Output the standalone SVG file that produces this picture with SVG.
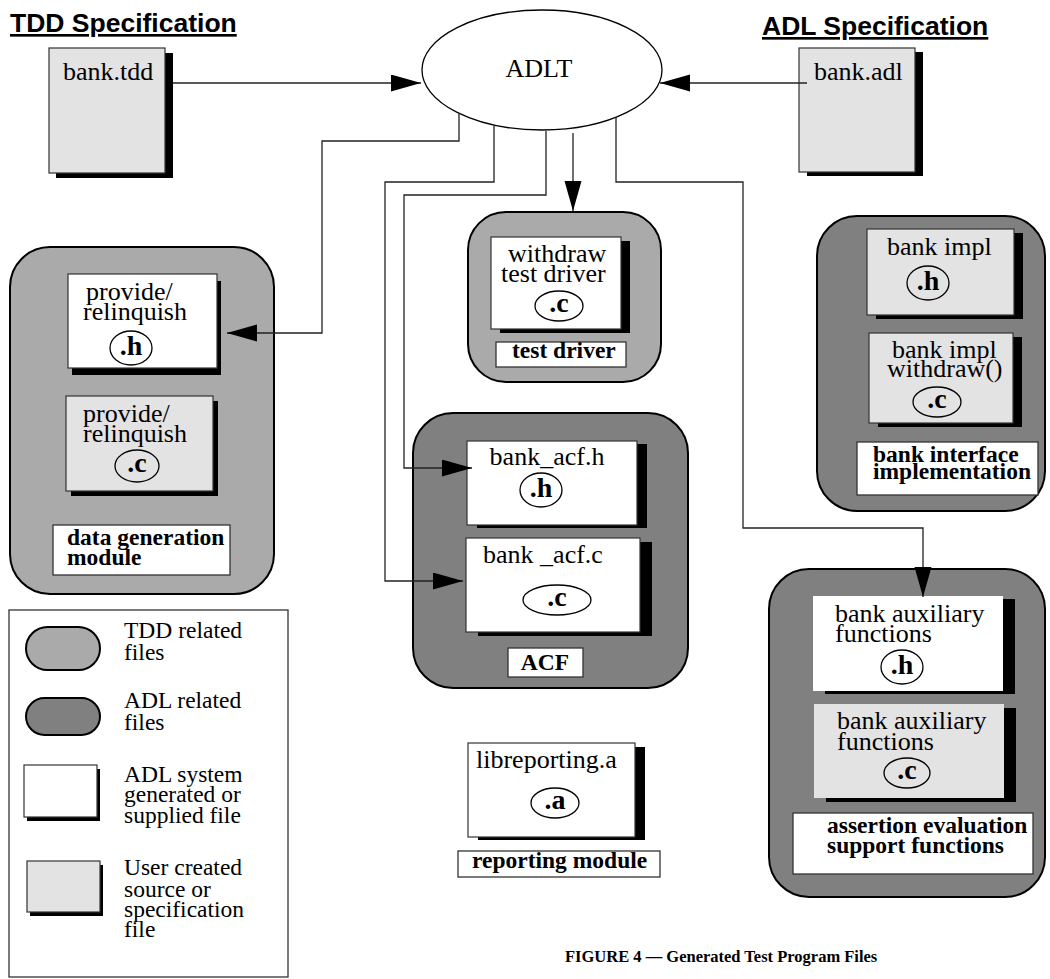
<svg xmlns="http://www.w3.org/2000/svg" width="1050" height="979" viewBox="0 0 1050 979">
<style>
.ttl{font-family:"Liberation Sans",Arial,sans-serif;font-weight:bold;font-size:26.5px;text-decoration:underline;fill:#000}
.ft{font-family:"Liberation Serif","Times New Roman",serif;font-size:26px;fill:#000}
.lg{font-family:"Liberation Serif","Times New Roman",serif;font-size:23.5px;fill:#000}
.lb{font-family:"Liberation Serif","Times New Roman",serif;font-size:23.5px;font-weight:bold;fill:#000}
.bd{font-family:"Liberation Serif","Times New Roman",serif;font-size:28px;font-weight:bold;fill:#000;text-anchor:middle}
.cap{font-family:"Liberation Serif","Times New Roman",serif;font-size:16.5px;font-weight:bold;fill:#000}
.modL{fill:#aaaaaa;stroke:#000;stroke-width:2}
.modD{fill:#808080;stroke:#000;stroke-width:2}
.wf{fill:#fff;stroke:#333;stroke-width:1.2}
.gf{fill:#e3e3e3;stroke:#333;stroke-width:1.2}
.sh{fill:#000}
.badge{fill:none;stroke:#000;stroke-width:1.3}
.lab{fill:#fff;stroke:#333;stroke-width:1.3}
.con{fill:none;stroke:#222;stroke-width:1.3}
</style>
<defs>
<marker id="ah" markerUnits="userSpaceOnUse" markerWidth="30" markerHeight="18" refX="30" refY="8.5" orient="auto">
<path d="M0,0 L30,8.5 L0,17 z" fill="#000"/>
</marker>
</defs>

<text class="ttl" x="10" y="32">TDD Specification</text>
<text class="ttl" x="762" y="35">ADL Specification</text>

<g id="bank-tdd">
<rect class="sh" x="56" y="53" width="117" height="125"/>
<rect class="gf" x="49" y="48" width="116" height="125"/>
<text class="ft" x="63" y="80">bank.tdd</text>
</g>

<g id="bank-adl">
<rect class="sh" x="807" y="52" width="116" height="124"/>
<rect class="gf" x="799" y="48" width="116" height="124"/>
<text class="ft" x="814" y="80">bank.adl</text>
</g>

<g id="adlt">
<ellipse cx="542" cy="70" rx="120" ry="60" fill="#fff" stroke="#000" stroke-width="1.3"/>
<text class="ft" x="539" y="77" text-anchor="middle" font-size="24">ADLT</text>
</g>

<g id="data-generation-module">
<rect class="modL" x="10" y="247" width="264" height="347" rx="40"/>
<rect class="sh" x="72" y="281" width="149" height="94"/>
<rect class="wf" x="68" y="274" width="149" height="94"/>
<text class="ft"><tspan x="86" y="300">provide/</tspan><tspan x="83" y="320">relinquish</tspan></text>
<ellipse class="badge" cx="131" cy="348" rx="21" ry="17"/>
<text class="bd" x="131" y="355">.h</text>
<rect class="sh" x="71" y="401" width="147" height="95"/>
<rect class="gf" x="66" y="396" width="147" height="95"/>
<text class="ft"><tspan x="83" y="422">provide/</tspan><tspan x="83" y="442">relinquish</tspan></text>
<ellipse class="badge" cx="137" cy="466" rx="22" ry="16"/>
<text class="bd" x="137" y="472">.c</text>
<rect class="lab" x="53" y="525" width="177" height="50"/>
<text class="lb"><tspan x="67" y="545">data generation</tspan><tspan x="67" y="565">module</tspan></text>
</g>

<g id="test-driver-module">
<rect class="modL" x="468" y="212" width="193" height="170" rx="38"/>
<rect class="sh" x="500" y="241" width="130" height="92"/>
<rect class="wf" x="491" y="237" width="130" height="92"/>
<text class="ft"><tspan x="508" y="262">withdraw</tspan><tspan x="501" y="282">test driver</tspan></text>
<ellipse class="badge" cx="559" cy="306" rx="24" ry="15"/>
<text class="bd" x="559" y="312">.c</text>
<rect class="lab" x="496" y="342" width="130" height="25"/>
<text class="lb" x="512" y="358">test driver</text>
</g>

<g id="bank-interface-module">
<rect class="modD" x="817" y="216" width="228" height="295" rx="40"/>
<rect class="sh" x="876" y="233" width="147" height="86"/>
<rect class="gf" x="867" y="229" width="147" height="86"/>
<text class="ft" x="887" y="255">bank impl</text>
<ellipse class="badge" cx="928" cy="283" rx="21" ry="17"/>
<text class="bd" x="928" y="290">.h</text>
<rect class="sh" x="878" y="337" width="144" height="90"/>
<rect class="gf" x="869" y="333" width="144" height="90"/>
<text class="ft"><tspan x="892" y="358">bank impl</tspan><tspan x="887" y="377">withdraw()</tspan></text>
<ellipse class="badge" cx="937" cy="402" rx="24" ry="15"/>
<text class="bd" x="937" y="408">.c</text>
<rect class="lab" x="857" y="442" width="181" height="53"/>
<text class="lb"><tspan x="873" y="462">bank interface</tspan><tspan x="873" y="479">implementation</tspan></text>
</g>

<g id="acf-module">
<rect class="modD" x="413" y="413" width="275" height="275" rx="40"/>
<rect class="sh" x="477" y="444" width="170" height="84"/>
<rect class="wf" x="467" y="441" width="170" height="84"/>
<text class="ft" x="547" y="465" text-anchor="middle">bank_acf.h</text>
<ellipse class="badge" cx="541" cy="490" rx="21" ry="17"/>
<text class="bd" x="541" y="497">.h</text>
<rect class="sh" x="478" y="542" width="174" height="94"/>
<rect class="wf" x="466" y="538" width="174" height="94"/>
<text class="ft" x="543" y="563" text-anchor="middle">bank _acf.c</text>
<ellipse class="badge" cx="557" cy="600" rx="34" ry="15"/>
<text class="bd" x="557" y="606">.c</text>
<rect class="lab" x="508" y="648" width="75" height="29"/>
<text class="lb" x="545" y="670" text-anchor="middle">ACF</text>
</g>

<g id="assertion-module">
<rect class="modD" x="769" y="569" width="276" height="328" rx="40"/>
<rect class="sh" x="825" y="599" width="190" height="95"/>
<rect x="813" y="596" width="190" height="95" fill="#fff"/>
<text class="ft"><tspan x="835" y="622">bank auxiliary</tspan><tspan x="835" y="642">functions</tspan></text>
<ellipse class="badge" cx="902" cy="667" rx="21" ry="17"/>
<text class="bd" x="902" y="674">.h</text>
<rect class="sh" x="826" y="708" width="190" height="94"/>
<rect x="814" y="704" width="190" height="94" fill="#e3e3e3"/>
<text class="ft"><tspan x="837" y="729">bank auxiliary</tspan><tspan x="837" y="750">functions</tspan></text>
<ellipse class="badge" cx="907" cy="773" rx="23" ry="15"/>
<text class="bd" x="907" y="779">.c</text>
<rect class="lab" x="793" y="813" width="240" height="61"/>
<text class="lb"><tspan x="827" y="833">assertion evaluation</tspan><tspan x="827" y="853">support functions</tspan></text>
</g>

<g id="reporting-module">
<rect class="sh" x="478" y="747" width="167" height="93"/>
<rect class="wf" x="468" y="743" width="167" height="94"/>
<text class="ft" x="476" y="768">libreporting.a</text>
<ellipse class="badge" cx="555" cy="803" rx="24" ry="15"/>
<text class="bd" x="555" y="809">.a</text>
<rect class="lab" x="458" y="851" width="202" height="26"/>
<text class="lb" x="472" y="868">reporting module</text>
</g>

<g id="legend">
<rect x="9" y="610" width="279" height="367" fill="#fff" stroke="#333" stroke-width="1.3"/>
<rect class="modL" x="26" y="627" width="74" height="43" rx="21.5"/>
<text class="lg"><tspan x="124" y="638">TDD related</tspan><tspan x="124" y="660">files</tspan></text>
<rect class="modD" x="26" y="698" width="74" height="37" rx="18.5"/>
<text class="lg"><tspan x="124" y="708">ADL related</tspan><tspan x="124" y="730">files</tspan></text>
<rect class="sh" x="27" y="769" width="73" height="52"/>
<rect class="wf" x="24" y="765" width="73" height="52"/>
<text class="lg"><tspan x="124" y="782">ADL system</tspan><tspan x="124" y="802">generated or</tspan><tspan x="124" y="823">supplied file</tspan></text>
<rect class="sh" x="30" y="865" width="73" height="51"/>
<rect class="gf" x="27" y="861" width="73" height="51"/>
<text class="lg"><tspan x="124" y="875">User created</tspan><tspan x="124" y="897">source or</tspan><tspan x="124" y="917">specification</tspan><tspan x="124" y="937">file</tspan></text>
</g>

<g id="connectors">
<path class="con" d="M173,83 H421" marker-end="url(#ah)"/>
<path class="con" d="M807,83 H660" marker-end="url(#ah)"/>
<path class="con" d="M459,113 V141 H322 V333 H227" marker-end="url(#ah)"/>
<path class="con" d="M494,126 V182 H385 V581 H463" marker-end="url(#ah)"/>
<path class="con" d="M546,131 V195 H404 V468 H472" marker-end="url(#ah)"/>
<path class="con" d="M573,133 V211" marker-end="url(#ah)"/>
<path class="con" d="M616,117 V182 H743 V528 H923 V597" marker-end="url(#ah)"/>
</g>

<text class="cap" x="565" y="962">FIGURE 4 — Generated Test Program Files</text>
</svg>
